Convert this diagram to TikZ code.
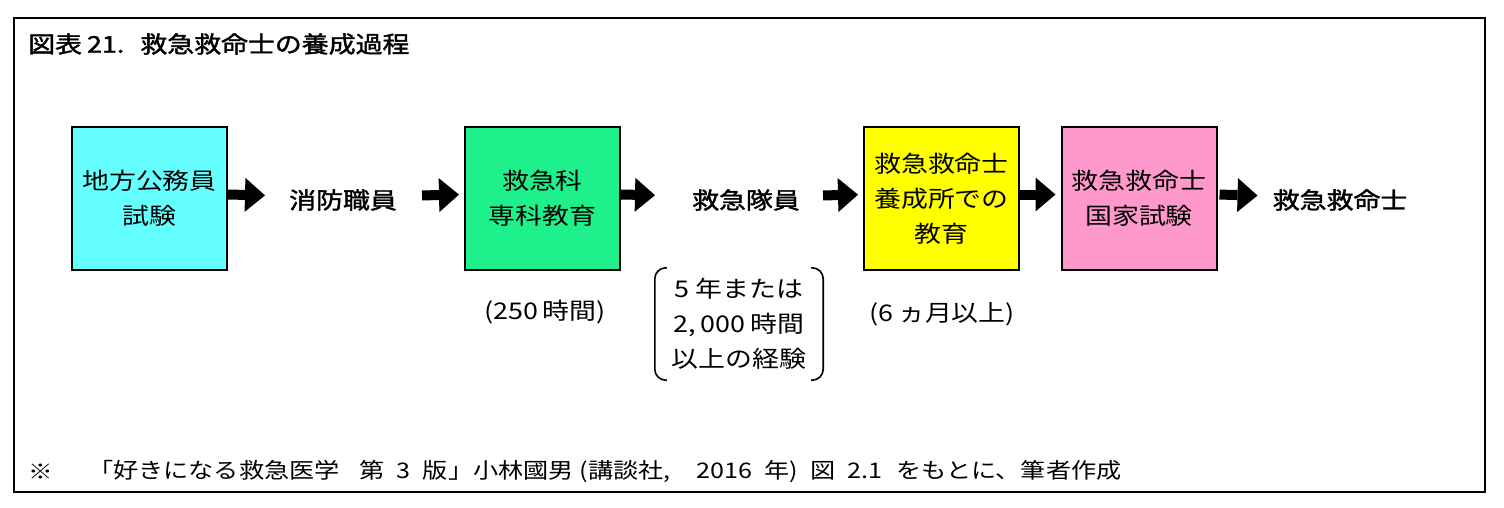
\documentclass[tikz,border=0pt]{standalone}
\usepackage{fontspec}
\setmainfont[FakeStretch=1.17, BoldFont={Noto Sans CJK JP}, BoldFeatures={FakeBold=1.6}]{Noto Sans CJK JP}
\usetikzlibrary{arrows.meta}
\definecolor{boxcyan}{RGB}{102,255,255}
\definecolor{boxgreen}{RGB}{30,240,140}
\definecolor{boxyellow}{RGB}{255,255,0}
\definecolor{boxpink}{RGB}{255,153,204}
\begin{document}
\begin{tikzpicture}[x=1pt,y=-1pt,
  stagebox/.style={draw=black, line width=2pt, minimum width=155pt, minimum height=143pt,
    inner sep=0pt, align=center, font=\fontsize{23}{35}\selectfont},
  rolelabel/.style={inner sep=0pt, font=\fontsize{23}{28}\selectfont\bfseries},
  notetext/.style={inner sep=0pt, align=center, font=\fontsize{23}{35}\selectfont},
  flow/.style={line width=10pt, -{Triangle[length=20pt,width=34pt,line width=0pt]}},
  bracket/.style={line width=1.6pt, rounded corners=11pt}
]
\path[fill=white, use as bounding box] (0,0) rectangle (1504,508);
\draw[line width=2.5pt] (14,18) rectangle (1485,492);

\node[anchor=west, inner sep=0pt, font=\fontsize{23}{28}\selectfont\bfseries] (title) at (28,44)
  {図表\hspace{5pt}21.\hspace{16pt}救急救命士の養成過程};

\node[stagebox, fill=boxcyan]   (b1) at (149.5,198.5) {地方公務員\\試験};
\node[rolelabel]                (t1) at (343,200) {消防職員};
\node[stagebox, fill=boxgreen]  (b2) at (542.5,198.5) {救急科\\専科教育};
\node[rolelabel]                (t2) at (746,200) {救急隊員};
\node[stagebox, fill=boxyellow] (b3) at (941.5,198.5) {救急救命士\\養成所での\\教育};
\node[stagebox, fill=boxpink]   (b4) at (1139,198.5) {救急救命士\\国家試験};
\node[rolelabel]                (t3) at (1340,200) {救急救命士};

\draw[flow, shorten >=24pt] ([yshift=4pt]b1.east) -- ([yshift=4pt]t1.west);
\draw[flow, shorten <=25pt, shorten >=5pt] ([yshift=4pt]t1.east) -- ([yshift=4pt]b2.west);
\draw[flow, shorten >=37pt] ([yshift=4pt]b2.east) -- ([yshift=4pt]t2.west);
\draw[flow, shorten <=23pt, shorten >=5pt] ([yshift=4pt]t2.east) -- ([yshift=4pt]b3.west);
\draw[flow, shorten >=5pt] ([yshift=4pt]b3.east) -- ([yshift=4pt]b4.west);
\draw[flow, shorten <=2pt, shorten >=15pt] ([yshift=4pt]b4.east) -- ([yshift=4pt]t3.west);

\node[notetext] (n1) at (545,312) {(250\hspace{5pt}時間)};
\node[notetext] (n3) at (942,314) {(6\hspace{5pt}ヵ月以上)};
\node[notetext, minimum width=168pt, minimum height=112pt] (n2) at (739,324)
  {5\hspace{6pt}年または\\2,\hspace{5pt}000\hspace{5pt}時間\\以上の経験};
\draw[bracket] ([xshift=12pt]n2.north west) -- (n2.north west) -- (n2.south west) -- ([xshift=12pt]n2.south west);
\draw[bracket] ([xshift=-12pt]n2.north east) -- (n2.north east) -- (n2.south east) -- ([xshift=-12pt]n2.south east);

\node[anchor=west, inner sep=0pt, font=\fontsize{21}{24}\selectfont] (mark) at (28,472) {※};
\node[anchor=west, inner sep=0pt, font=\fontsize{21.5}{24}\selectfont] (source) at (88,472)
  {「好きになる救急医学\hspace{20pt}第\hspace{12pt}3\hspace{12pt}版」小林國男\hspace{6pt}(講談社,\hspace{26pt}2016\hspace{12pt}年)\hspace{12pt}図\hspace{12pt}2.1\hspace{14pt}をもとに、筆者作成};
\end{tikzpicture}
\end{document}
